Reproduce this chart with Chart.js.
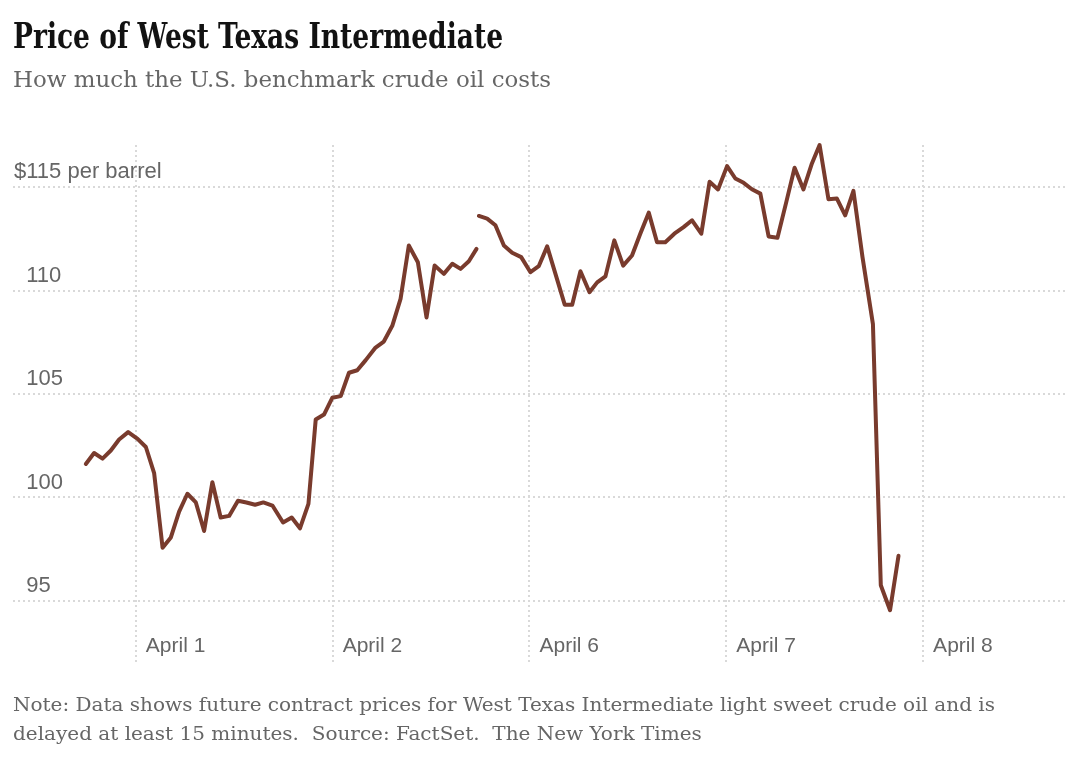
<!DOCTYPE html>
<html>
<head>
<meta charset="utf-8">
<script src="https://cdn.jsdelivr.net/npm/chart.js@4.4.1/dist/chart.umd.min.js"></script>
<style>
  html, body { margin: 0; padding: 0; background: #fff; }
  body { width: 1080px; height: 772px; position: relative; overflow: hidden; }
  .txt { position: absolute; left: 13px; white-space: pre; line-height: 1; transform-origin: 0 0; }
  #title { top: 14px; font: bold 36px "DejaVu Serif Condensed", "DejaVu Serif", serif; color: #121212; }
  #subtitle { top: 66px; font: 23px "DejaVu Serif", serif; color: #666; }
  .note { font: 19px "DejaVu Serif Condensed", "DejaVu Serif", serif; color: #666; }
  #note1 { top: 693px; }
  #note2 { top: 722px; }
  #wrap { position: absolute; left: 0; top: 0; width: 1080px; height: 772px; }
</style>
</head>
<body>
<div id="wrap"><canvas id="oilChart" width="1080" height="772"></canvas></div>
<div class="txt" id="title">Price of West Texas Intermediate</div>
<div class="txt" id="subtitle">How much the U.S. benchmark crude oil costs</div>
<div class="txt note" id="note1">Note: Data shows future contract prices for West Texas Intermediate light sweet crude oil and is</div>
<div class="txt note" id="note2">delayed at least 15 minutes.  Source: FactSet.  The New York Times</div>
<script>
// trading-day position of each reading (0 = April 1, 1 = April 2, 2 = April 6 ...)
const tradingDay = [
  -0.254, -0.212, -0.169, -0.127, -0.085, -0.039, 0.009, 0.051, 0.093, 0.136,
  0.178, 0.220, 0.262, 0.305, 0.347, 0.389, 0.431, 0.474, 0.519, 0.562,
  0.606, 0.648, 0.694, 0.748, 0.792, 0.834, 0.877, 0.914, 0.956, 0.998,
  1.041, 1.083, 1.125, 1.168, 1.218, 1.260, 1.303, 1.345, 1.387, 1.433,
  1.477, 1.518, 1.565, 1.608, 1.650, 1.692, 1.731,
  1.737, // break before the weekend
  1.743, 1.785, 1.827, 1.870, 1.912, 1.958, 2.005, 2.047, 2.090, 2.132,
  2.179, 2.217, 2.259, 2.305, 2.344, 2.386, 2.431, 2.476, 2.521, 2.563,
  2.606, 2.648, 2.690, 2.736, 2.783, 2.826, 2.873, 2.915, 2.958, 3.004,
  3.046, 3.088, 3.130, 3.173, 3.215, 3.260, 3.305, 3.347, 3.392, 3.435,
  3.474, 3.519, 3.562, 3.604, 3.646, 3.692, 3.745, 3.785, 3.832, 3.875
];

// WTI price, $ per barrel
const price = [
  101.62, 102.15, 101.88, 102.27, 102.80, 103.16, 102.83, 102.44, 101.18, 97.57,
  98.07, 99.32, 100.18, 99.76, 98.38, 100.74, 99.03, 99.11, 99.84, 99.76,
  99.65, 99.76, 99.61, 98.79, 99.03, 98.51, 99.69, 103.77, 104.01, 104.82,
  104.90, 106.03, 106.15, 106.64, 107.25, 107.54, 108.30, 109.60, 112.18, 111.37,
  108.70, 111.21, 110.81, 111.30, 111.05, 111.42, 112.02,
  null,
  113.61, 113.48, 113.16, 112.18, 111.83, 111.62, 110.89, 111.18, 112.14, 110.81,
  109.32, 109.32, 110.94, 109.92, 110.40, 110.69, 112.43, 111.21, 111.70, 112.75,
  113.77, 112.34, 112.34, 112.75, 113.07, 113.40, 112.75, 115.26, 114.89, 116.02,
  115.42, 115.21, 114.90, 114.69, 112.62, 112.56, 114.29, 115.94, 114.89, 116.15,
  117.04, 114.42, 114.45, 113.64, 114.82, 111.62, 108.38, 95.76, 94.55, 97.18
];

const dayTicks = [0, 1, 2, 3, 4];
const dayLabels = ['April 1', 'April 2', 'April 6', 'April 7', 'April 8'];
const priceTicks = [95, 100, 105, 110, 115];

const gridColor = '#d9d9d9';
const fontFamily = '"Liberation Sans", Arial, sans-serif';

const ctx = document.getElementById('oilChart').getContext('2d');
new Chart(ctx, {
  type: 'line',
  data: {
    datasets: [{
      data: tradingDay.map((d, i) => ({ x: d, y: price[i] })),
      borderColor: '#793b2d',
      borderWidth: 4,
      borderJoinStyle: 'round',
      borderCapStyle: 'round',
      pointRadius: 0,
      tension: 0,
      spanGaps: false,
      clip: false
    }]
  },
  options: {
    responsive: false,
    animation: false,
    devicePixelRatio: 1,
    layout: { padding: { left: 11, right: 13, top: 145, bottom: 98 } },
    plugins: { legend: { display: false }, tooltip: { enabled: false } },
    scales: {
      x: {
        type: 'linear',
        min: -0.624,
        max: 4.731,
        afterBuildTicks: axis => { axis.ticks = dayTicks.map(v => ({ value: v })); },
        ticks: {
          callback: v => dayLabels[dayTicks.indexOf(v)],
          mirror: true,
          align: 'start',
          labelOffset: 10,
          padding: 5,
          color: '#666',
          font: { family: fontFamily, size: 21 }
        },
        grid: { color: gridColor, lineWidth: 2, drawTicks: false },
        border: { display: false, dash: [2, 3] }
      },
      y: {
        min: 91.95,
        max: 117.04,
        afterBuildTicks: axis => { axis.ticks = priceTicks.map(v => ({ value: v })); },
        ticks: {
          callback: v => v === 115 ? '$115 per barrel' : '  ' + v,
          mirror: true,
          padding: 1,
          labelOffset: -15,
          color: '#666',
          font: { family: fontFamily, size: 22 }
        },
        grid: { color: gridColor, lineWidth: 2, drawTicks: false },
        border: { display: false, dash: [2, 3] }
      }
    }
  }
});

// squeeze the headline texts to the measured widths of the original
function fitWidth(id, target) {
  const el = document.getElementById(id);
  const s = target / el.getBoundingClientRect().width;
  el.style.transform = 'scaleX(' + s + ')';
  return s;
}
fitWidth('title', 490);
fitWidth('subtitle', 538);
const ns = fitWidth('note1', 982);
document.getElementById('note2').style.transform = 'scaleX(' + ns + ')';
</script>
</body>
</html>
